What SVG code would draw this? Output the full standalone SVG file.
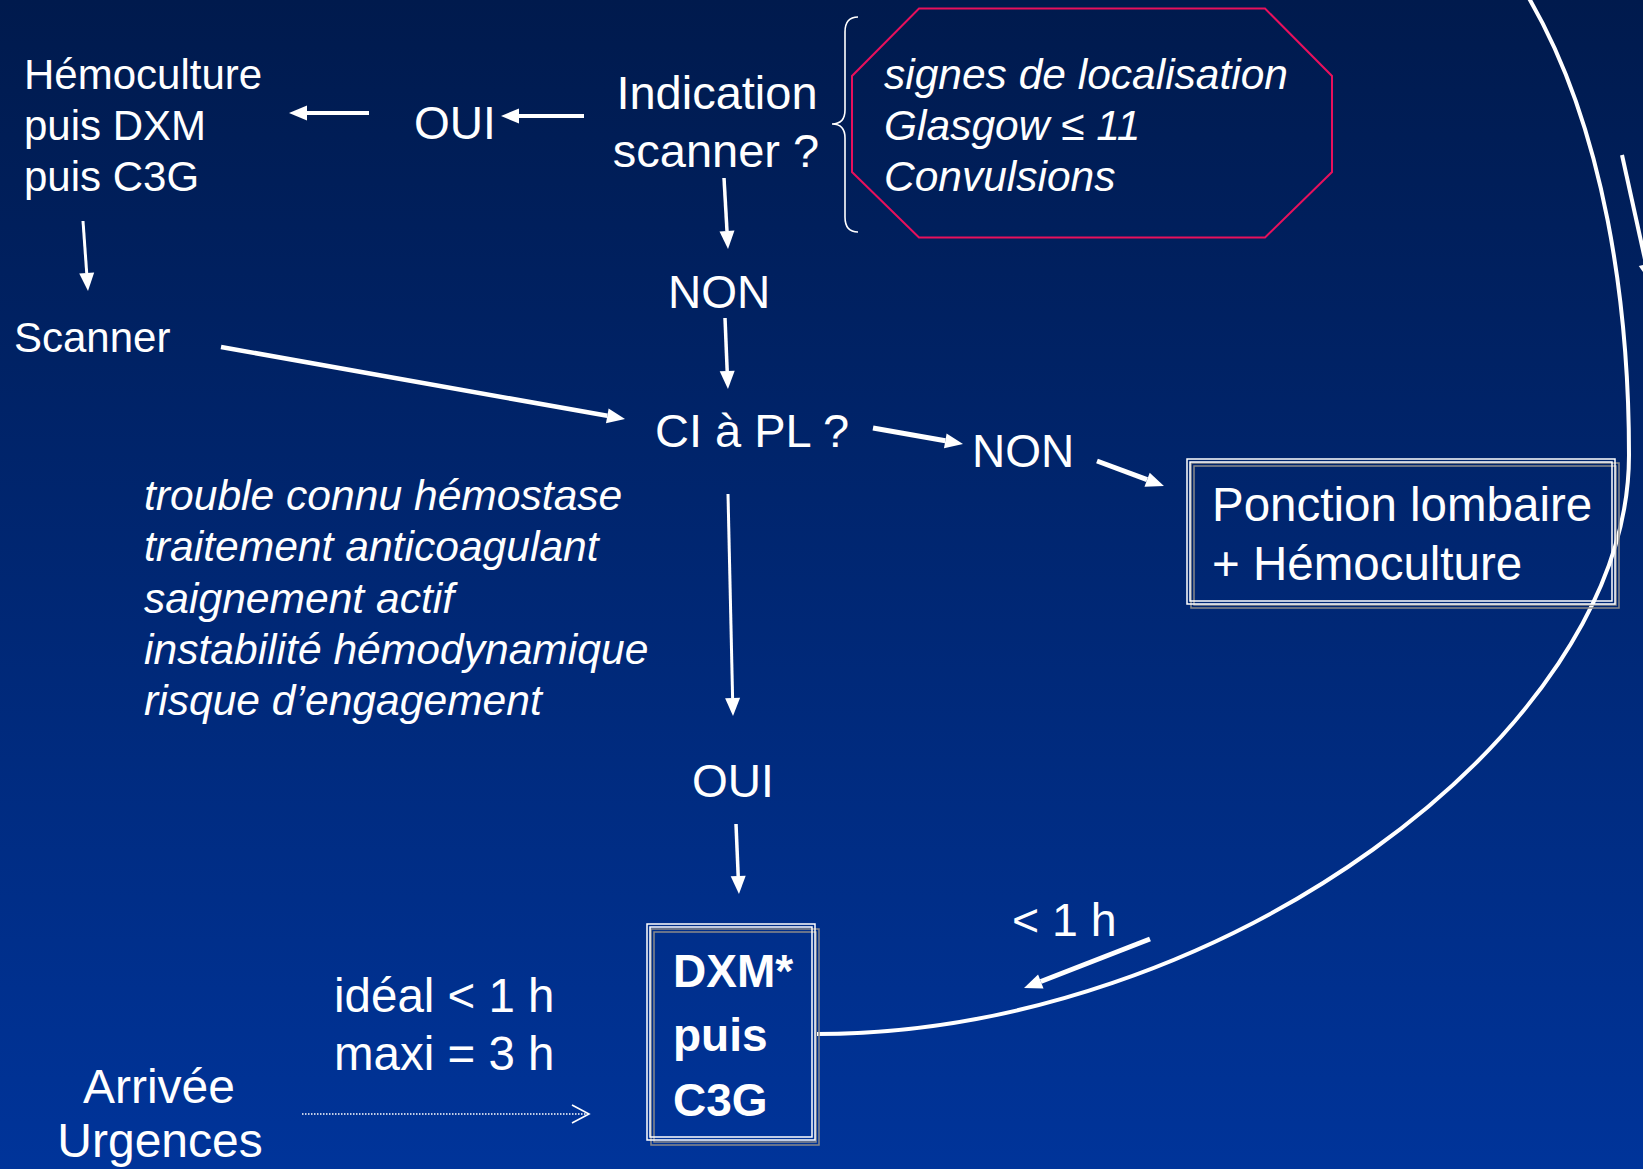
<svg xmlns="http://www.w3.org/2000/svg" width="1643" height="1169" viewBox="0 0 1643 1169">
<defs>
<linearGradient id="bg" x1="0" y1="0" x2="0" y2="1">
<stop offset="0" stop-color="#001a4d"/>
<stop offset="1" stop-color="#00349a"/>
</linearGradient>
<marker id="ah" markerUnits="userSpaceOnUse" markerWidth="20" markerHeight="16" refX="0" refY="0" orient="auto" overflow="visible">
<path d="M0,-7.5 L18,0 L0,7.5 Z" fill="#fff"/>
</marker>
<marker id="oh" markerUnits="userSpaceOnUse" markerWidth="20" markerHeight="20" refX="0" refY="0" orient="auto" overflow="visible">
<path d="M-17,-9 L0,0 L-17,9" fill="none" stroke="#fff" stroke-width="1.6"/>
</marker>
<style>
.t{font-family:"Liberation Sans",Arial,sans-serif;fill:#fff}
.i{font-style:italic}
.b{font-weight:bold}
.c{stroke:#fff;fill:none;stroke-linecap:butt}
.box{fill:none;stroke:#fff;stroke-width:1.5}
.sh{fill:none;stroke:#8a8a8a;stroke-width:1.5}
</style>
</defs>
<rect x="0" y="0" width="1643" height="1169" fill="url(#bg)"/>

<g id="connectors">
<line class="c" x1="369" y1="113" x2="307" y2="113" stroke-width="4" marker-end="url(#ah)"/>
<line class="c" x1="584" y1="116" x2="519" y2="116" stroke-width="4" marker-end="url(#ah)"/>
<line class="c" x1="724" y1="178" x2="727" y2="231" stroke-width="3.5" marker-end="url(#ah)"/>
<line class="c" x1="725" y1="318" x2="727.2" y2="371" stroke-width="3.5" marker-end="url(#ah)"/>
<line class="c" x1="83" y1="221" x2="86.7" y2="273" stroke-width="3" marker-end="url(#ah)"/>
<line class="c" x1="221" y1="347" x2="607.3" y2="415.8" stroke-width="4.5" marker-end="url(#ah)"/>
<line class="c" x1="873" y1="428" x2="945.3" y2="440.8" stroke-width="5" marker-end="url(#ah)"/>
<line class="c" x1="1097" y1="461" x2="1147.1" y2="479.7" stroke-width="5" marker-end="url(#ah)"/>
<line class="c" x1="728" y1="494" x2="732.6" y2="698" stroke-width="3" marker-end="url(#ah)"/>
<line class="c" x1="736" y1="824" x2="738.2" y2="876" stroke-width="3.5" marker-end="url(#ah)"/>
<line class="c" x1="1150" y1="939" x2="1040.8" y2="981.5" stroke-width="5" marker-end="url(#ah)"/>
<line class="c" x1="1622" y1="155" x2="1646.1" y2="264.4" stroke-width="4" marker-end="url(#ah)"/>
<line class="c" x1="302" y1="1114" x2="589" y2="1114" stroke-width="1.4" stroke-dasharray="1.5 1.5" marker-end="url(#oh)"/>
<path class="c" stroke-width="4" d="M817,1034 C1217,1034 1629,735 1629,455 C1629,305 1605,130.5 1530,0 L1520,-17"/>
<path class="c" stroke-width="1.6" d="M858,17 Q845,17 845,32 L845,110 Q845,124 832,124 Q845,124 845,138 L845,217 Q845,232 858,232"/>
</g>

<g id="hemoculture">
<text class="t" font-size="42" x="24" y="89">Hémoculture</text>
<text class="t" font-size="42" x="24" y="140">puis DXM</text>
<text class="t" font-size="42" x="24" y="191">puis C3G</text>
</g>
<g id="oui-top"><text class="t" font-size="46" x="414" y="139">OUI</text></g>
<g id="indication">
<text class="t" font-size="47" x="717" y="109" text-anchor="middle">Indication</text>
<text class="t" font-size="47" x="716" y="167" text-anchor="middle">scanner ?</text>
</g>
<g id="criteres-scanner">
<polygon points="919,8.5 1265,8.5 1332,76 1332,172 1265,237.5 919,237.5 852,172 852,76" fill="none" stroke="#e8105c" stroke-width="2"/>
<text class="t i" font-size="42.5" x="884" y="89">signes de localisation</text>
<text class="t i" font-size="42.5" x="884" y="140">Glasgow ≤ 11</text>
<text class="t i" font-size="42.5" x="884" y="191">Convulsions</text>
</g>
<g id="scanner"><text class="t" font-size="42" x="14" y="352">Scanner</text></g>
<g id="non-1"><text class="t" font-size="46" x="668" y="308">NON</text></g>
<g id="ci-pl"><text class="t" font-size="47" x="655" y="447">CI à PL ?</text></g>
<g id="non-2"><text class="t" font-size="46" x="972" y="467">NON</text></g>
<g id="ponction">
<rect class="sh" x="1191" y="463" width="428" height="145"/>
<rect class="sh" x="1194" y="466" width="422" height="139"/>
<rect class="box" x="1187" y="459" width="428" height="145"/>
<rect class="box" x="1190" y="462" width="422" height="139"/>
<text class="t" font-size="47.5" x="1212" y="521">Ponction lombaire</text>
<text class="t" font-size="47.5" x="1212" y="580">+ Hémoculture</text>
</g>
<g id="contre-indications">
<text class="t i" font-size="42.6" x="144" y="510">trouble connu hémostase</text>
<text class="t i" font-size="42.6" x="144" y="561">traitement anticoagulant</text>
<text class="t i" font-size="42.6" x="144" y="613">saignement actif</text>
<text class="t i" font-size="42.6" x="144" y="664">instabilité hémodynamique</text>
<text class="t i" font-size="42.6" x="144" y="715">risque d’engagement</text>
</g>
<g id="oui-bottom"><text class="t" font-size="46" x="692" y="797">OUI</text></g>
<g id="dxm">
<rect class="sh" x="651" y="929" width="168" height="216"/>
<rect class="sh" x="654" y="932" width="162" height="210"/>
<rect class="box" x="647" y="924" width="168" height="216"/>
<rect class="box" x="650" y="927" width="162" height="210"/>
<text class="t b" font-size="46" x="673" y="987">DXM*</text>
<text class="t b" font-size="46" x="673" y="1051">puis</text>
<text class="t b" font-size="46" x="673" y="1116">C3G</text>
</g>
<g id="delai-1h"><text class="t" font-size="46.5" x="1012" y="936">&lt; 1 h</text></g>
<g id="delai-ideal">
<text class="t" font-size="47.5" x="334" y="1012">idéal &lt; 1 h</text>
<text class="t" font-size="47.5" x="334" y="1070">maxi = 3 h</text>
</g>
<g id="arrivee">
<text class="t" font-size="48" x="159" y="1103" text-anchor="middle">Arrivée</text>
<text class="t" font-size="48" x="160" y="1157" text-anchor="middle">Urgences</text>
</g>
</svg>
